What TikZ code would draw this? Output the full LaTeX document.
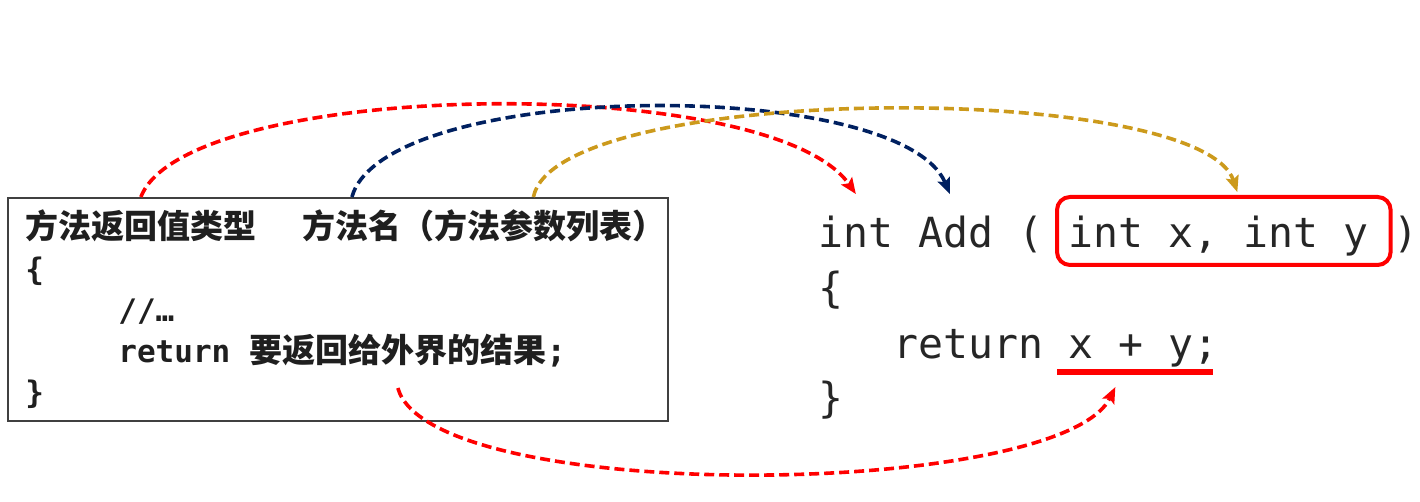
\documentclass[tikz,border=0pt]{standalone}
\usepackage{fontspec}
\setmonofont{DejaVu Sans Mono}
\newfontfamily\cjk{Noto Sans CJK SC}
\usetikzlibrary{arrows.meta}
\definecolor{navyarrow}{HTML}{002060}
\definecolor{goldarrow}{HTML}{CC9A1C}
\definecolor{codegray}{HTML}{262626}

\begin{document}
\begin{tikzpicture}[x=0.5pt, y=-0.5pt,
  cn/.style={anchor=base west, inner sep=0pt, font=\cjk\bfseries\fontsize{16.5pt}{20pt}\selectfont, text=black!88},
  lcode/.style={anchor=base west, inner sep=0pt, font=\ttfamily\bfseries\fontsize{15.5pt}{18pt}\selectfont, text=black!88},
  rcode/.style={anchor=base west, inner sep=0pt, font=\ttfamily\fontsize{20.75pt}{24pt}\selectfont, text=codegray},
  link/.style={dash pattern=on 5pt off 2.5pt, line width=1.8pt, -{Stealth[length=8pt,width=6.5pt,inset=1.5pt]}}]

\useasboundingbox (0,0) rectangle (1420,502);

% general form
\node[draw=black!75, line width=1pt, fill=white, minimum width=330pt, minimum height=111.5pt, inner sep=0pt] (frame) at (338,309.5) {};
\node[cn] (rettype) at (25,239) {方法返回值类型};
\node[cn] (mname) at (302,239) {方法名};
\node[cn] (plist) at (401,239) {（方法参数列表）};
\node[lcode] (lopen) at (25,281) {\{};
\node[lcode] (cmt) at (118,322) {//…};
\node[lcode] (retkw) at (118,363) {return};
\node[cn] (retval) at (249,363) {要返回给外界的结果{\ttfamily;}};
\node[lcode] (lclose) at (25,404) {\}};

% example method
\node[rcode] (kwint) at (818,248) {int};
\node[rcode] (fname) at (918,248) {Add};
\node[rcode] (lpar) at (1018,248) {(};
\node[rcode] (args) at (1068,248) {int x, int y};
\node[rcode] (rpar) at (1393,248) {)};
\node[rcode] (ropen) at (818,303) {\{};
\node[rcode] (retkw2) at (893,358) {return};
\node[rcode] (sum) at (1068,358) {x + y;};
\node[rcode] (rclose) at (818,413) {\}};

\draw[red, line width=2pt, rounded corners=6.5pt] ([shift={(-11,-51)}]args.base west) rectangle ([shift={(22,17)}]args.base east);
\draw[red, line width=3pt] ([shift={(-11,14)}]sum.base west) -- ([shift={(-6,14)}]sum.base east);

% links
\draw[link, red] (rettype.north |- frame.north) .. controls +(45,-118) and +(-86,-123) .. ([shift={(0,-22)}]kwint.north);
\draw[link, navyarrow] (mname.north |- frame.north) .. controls +(33,-118) and +(-49,-118) .. ([shift={(-6,-22)}]fname.north);
\draw[link, goldarrow] (plist.north |- frame.north) .. controls +(23,-115) and +(-37,-112) .. ([shift={(19,-24)}]args.north);
\draw[link, red] ([shift={(-10,20)}]retval.south) .. controls +(33,118) and +(-55,112) .. ([shift={(-28,20)}]sum.south);

\end{tikzpicture}
\end{document}
